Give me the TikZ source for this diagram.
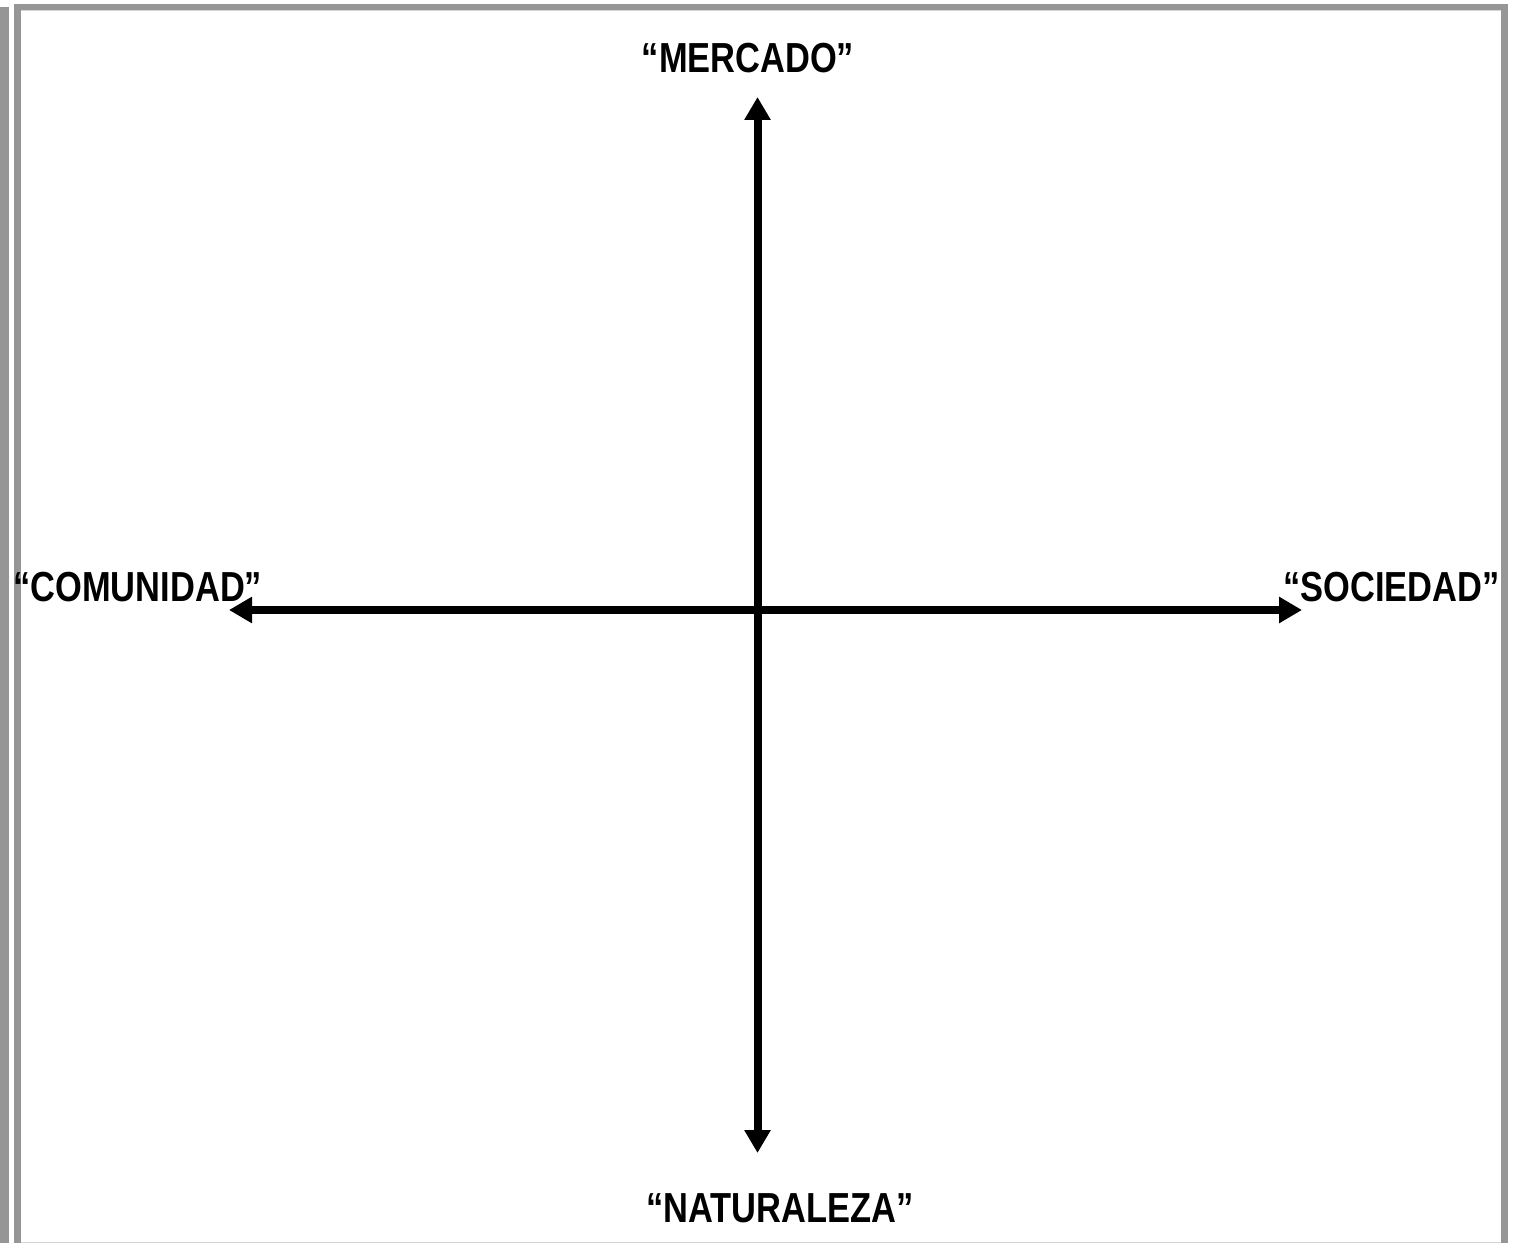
\documentclass[tikz,border=0pt]{standalone}
\usepackage{fontspec}
\setmainfont{Liberation Sans}[FakeStretch=0.82]
\usepackage{tikz}
\usepackage{xcolor}
\usetikzlibrary{positioning, arrows.meta}
\definecolor{framegray}{RGB}{150,150,150}
\definecolor{linegray}{RGB}{212,212,212}
\tikzset{
    axislabel/.style={inner sep=0pt, font=\fontsize{21}{25}\selectfont\bfseries},
    axisline/.style={{Triangle[length=11.5pt, width=12.5pt]}-{Triangle[length=11.5pt, width=12.5pt]}, line width=4pt, black},
    framebar/.style={fill=framegray, draw=none}
}

\begin{document}
\begin{tikzpicture}[x=0.5pt, y=0.5pt]

\useasboundingbox (0,0) rectangle (1518,1243);

% --- Frame ---
\fill[framebar] (0,0) rectangle (8.5,1236);
\fill[framebar] (14,0) rectangle (20.5,1239);
\fill[framebar] (14,1232.5) rectangle (1508,1239);
\fill[framebar] (1501,0) rectangle (1508,1239);
\fill[linegray] (20.5,1231.5) rectangle (1501,1232.5);
\fill[linegray] (20.5,0) rectangle (1501,1.5);

% --- Axis ends ---
\coordinate (centre) at (757.5,633);
\coordinate (top) at (757.5,1146);
\coordinate (bottom) at (757.5,90);
\coordinate (left) at (229,633);
\coordinate (right) at (1302,633);

% --- Labels ---
\node[axislabel, anchor=base] (mercado) at (748,1170) {“MERCADO”};
\node[axislabel, anchor=base] (naturaleza) at (780,21) {“NATURALEZA”};
\node[axislabel, anchor=base west] (comunidad) at (13,641) {“COMUNIDAD”};
\node[axislabel, anchor=base west] (sociedad) at (1283,641) {“SOCIEDAD”};

% --- Axes ---
\draw[axisline] (left) -- (right);
\draw[axisline] (bottom) -- (top);

\end{tikzpicture}
\end{document}
